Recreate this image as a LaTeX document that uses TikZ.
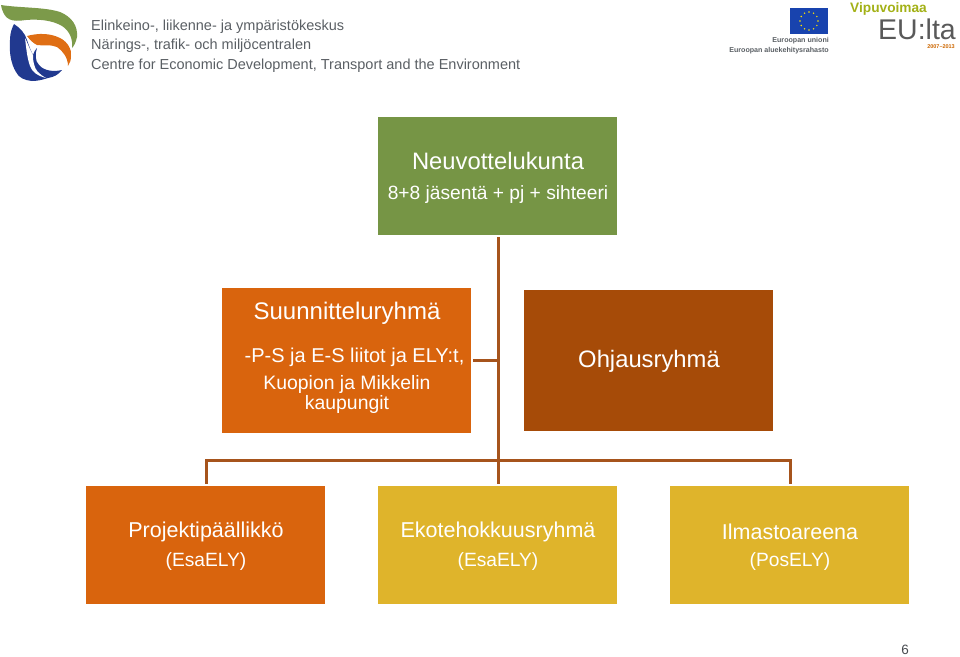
\documentclass[tikz,border=0pt]{standalone}
\usepackage{fontspec}
\setmainfont{Liberation Sans}
\definecolor{cgreen}{HTML}{769545}
\definecolor{corange}{HTML}{D9640D}
\definecolor{cbrown}{HTML}{A64B08}
\definecolor{cyellow}{HTML}{DFB42B}
\definecolor{cline}{HTML}{A6541C}
\definecolor{cgrey}{HTML}{5A5F64}
\definecolor{lgreen}{HTML}{7C9A4A}
\definecolor{lblue}{HTML}{21398F}
\definecolor{lorange}{HTML}{DF6E14}
\definecolor{vip}{HTML}{A3B117}
\begin{document}
\begin{tikzpicture}[x=1pt,y=-1pt,
  orgbox/.style={draw=none,inner sep=0pt,text=white,align=center,anchor=north west},
  conn/.style={draw=cline,line width=2.6pt},
  head/.style={text=cgrey,anchor=west,inner sep=0pt,font=\fontsize{14.5}{18}\selectfont},
  big/.style={font=\fontsize{23.8}{28}\selectfont},
  small/.style={font=\fontsize{19.2}{24}\selectfont}]
\useasboundingbox (0,0) rectangle (960,656);

% logo
\fill[lgreen] (1,5) .. controls (20,8) and (45,7) .. (60,12) .. controls (72,17) and (78,26) .. (77,37)
  .. controls (76,42) and (74,46) .. (72,48) .. controls (73,40) and (70,31) .. (62,26)
  .. controls (52,20) and (38,19) .. (26,20) .. controls (12,22) and (4,21) .. (1,5) -- cycle;
\fill[lorange] (27,36) .. controls (38,33) and (50,33) .. (60,38) .. controls (68,42) and (72,50) .. (71,56)
  .. controls (71,60) and (70,63) .. (68,66) .. controls (68,58) and (63,51) .. (57,47)
  .. controls (50,44) and (42,46) .. (37,45) .. controls (33,43) and (30,40) .. (27,36) -- cycle;
\fill[lblue] (14,24) .. controls (20,28) and (25,33) .. (27,40) .. controls (29,46) and (31,51) .. (33,55)
  .. controls (34,52) and (35,50) .. (37,48) .. controls (35,54) and (35,61) .. (39,65)
  .. controls (44,71) and (54,72) .. (62,70) .. controls (58,75) and (54,77) .. (48,78)
  .. controls (42,80) and (37,81) .. (32,81) .. controls (24,80) and (19,78) .. (16,72)
  .. controls (11,64) and (9,52) .. (10,40) .. controls (10,33) and (12,28) .. (14,24) -- cycle;
\fill[white] (25,38) .. controls (26,46) and (27,58) .. (30,66) .. controls (32,72) and (38,76) .. (46,78)
  .. controls (39,74) and (35,70) .. (34,64) .. controls (33,60) and (33,58) .. (33,55)
  .. controls (30,50) and (28,44) .. (25,38) -- cycle;

% header text
\node[head] (h1) at (91,27) {Elinkeino-, liikenne- ja ympäristökeskus};
\node[head] (h2) at (91,46) {Närings-, trafik- och miljöcentralen};
\node[head] (h3) at (91,65.5) {Centre for Economic Development, Transport and the Environment};

% EU flag
\fill[lblue!80!blue!90!cyan] (790,8) rectangle (828,34);
\foreach \a in {0,30,...,330}
  \fill[yellow!85!orange] ({809+9*cos(\a)},{21+9*sin(\a)}) circle (0.8);
\node[text=cgrey,anchor=east,inner sep=0pt,font=\bfseries\fontsize{7.1}{9}\selectfont] (eu1) at (829,41) {Euroopan unioni};
\node[text=cgrey,anchor=east,inner sep=0pt,font=\bfseries\fontsize{7.1}{9}\selectfont] (eu2) at (829,50.5) {Euroopan aluekehitysrahasto};

% Vipuvoimaa
\node[text=vip,anchor=west,inner sep=0pt,font=\bfseries\fontsize{13.7}{16}\selectfont] (vi) at (850,8.5) {Vipuvoimaa};
\node[text=gray!70!black,anchor=west,inner sep=0pt,font=\fontsize{28.5}{30}\selectfont] (el) at (878,29) {EU:lta};
\node[text=orange!80!black,anchor=east,inner sep=0pt,font=\bfseries\fontsize{5.5}{6}\selectfont] (yr) at (955,46.5) {2007--2013};

% boxes
\node[orgbox,fill=cgreen,minimum width=239pt,minimum height=118pt] (neu) at (378,117) {};
\node[big,text=white,inner sep=0pt] (neut) at (498,161) {Neuvottelukunta};
\node[small,text=white,inner sep=0pt] (neus) at (498,195) {8+8 jäsentä + pj + sihteeri};

\node[orgbox,fill=corange,minimum width=249pt,minimum height=145pt] (suu) at (222,288) {};
\node[font=\fontsize{24}{28}\selectfont,text=white,inner sep=0pt] (suut) at (347,313) {Suunnitteluryhmä};
\node[text=white,inner sep=0pt,font=\fontsize{20}{24}\selectfont] (suu1) at (354.5,357.5) {-P-S ja E-S liitot ja ELY:t,};
\node[text=white,inner sep=0pt,align=center,font=\fontsize{19.4}{20}\selectfont] (suu2) at (347,394.5) {Kuopion ja Mikkelin\\kaupungit};

\node[orgbox,fill=cbrown,minimum width=249pt,minimum height=141pt] (ohj) at (524,290) {};
\node[big,text=white,inner sep=0pt] (ohjt) at (649,361.5) {Ohjausryhmä};

\node[orgbox,fill=corange,minimum width=239pt,minimum height=118pt] (pro) at (86,486) {};
\node[orgbox,fill=cyellow,minimum width=239pt,minimum height=118pt] (eko) at (378,486) {};
\node[orgbox,fill=cyellow,minimum width=239pt,minimum height=118pt] (ilm) at (670,486) {};
\node[font=\fontsize{21.5}{26}\selectfont,text=white,inner sep=0pt] (prot) at (206,532) {Projektipäällikkö};
\node[small,text=white,inner sep=0pt] (pros) at (206,562) {(EsaELY)};
\node[font=\fontsize{21.5}{26}\selectfont,text=white,inner sep=0pt] (ekot) at (498,532) {Ekotehokkuusryhmä};
\node[small,text=white,inner sep=0pt] (ekos) at (498,562) {(EsaELY)};
\node[font=\fontsize{21.5}{26}\selectfont,text=white,inner sep=0pt] (ilmt) at (790,532) {Ilmastoareena};
\node[small,text=white,inner sep=0pt] (ilms) at (790,562) {(PosELY)};

% connectors
\coordinate (tt) at ([xshift=0.7pt]neu.south);
\coordinate (tb) at ([xshift=0.7pt]eko.north);
\coordinate (jm) at (tt |- suu.east);
\coordinate (jb) at (tt |- 0,460.5);
\coordinate (pn) at ([xshift=0.7pt]pro.north);
\coordinate (in) at ([xshift=0.7pt]ilm.north);
\coordinate (jl) at (pn |- jb);
\coordinate (jr) at (in |- jb);
\draw[conn,shorten <=2pt,shorten >=2.5pt] (tt) -- (tb);
\draw[conn,shorten <=1.5pt] (suu.east) -- (jm);
\draw[conn,shorten >=2pt] (jl) -- (pn);
\draw[conn,shorten >=2pt] (jr) -- (in);
\draw[conn] ([xshift=-1.3pt]jl) -- ([xshift=1.3pt]jr);

\node[text=cgrey!80!black,inner sep=0pt,font=\fontsize{13.5}{14}\selectfont] (pg) at (905,650) {6};
\end{tikzpicture}
\end{document}
